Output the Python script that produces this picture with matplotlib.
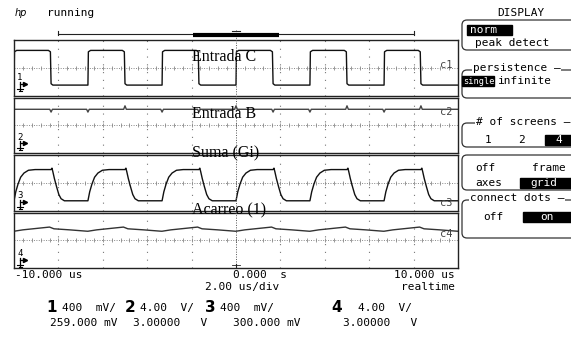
import numpy as np
import matplotlib.pyplot as plt
from matplotlib.patches import FancyBboxPatch, Rectangle

# edge times of the input clock (us)
t_rise = [-10.0, -6.67, -3.33, 0.0, 3.33, 6.67]
t_fall = [-8.33, -5.0, -1.67, 1.67, 5.0, 8.33]

# channel 1 (Entrada C) edge shapes: (dt, level)
ch1_rise = [(0.0, -2.5), (0.02, 2.3), (0.12, 2.5)]
ch1_fall = [(-0.12, 2.5), (-0.03, 2.3), (0.0, -2.3), (0.08, -2.5)]

# channel 2 (Entrada B): flat line with small glitches at every edge
ch2_level = 2.3
ch2_glitch = [0.0, -0.4, -0.4, 0.5, -0.4, -0.4, 0.5, -0.4, -0.4, 0.5, -0.4, 0.5]

# channel 3 (Suma (Gi)) edge shapes
ch3_rise = [(0.0, -2.6), (0.08, -1.3), (0.18, -0.2), (0.3, 0.8), (0.45, 1.4),
            (0.65, 1.8), (0.95, 1.9)]
ch3_fall = [(0.0, 1.9), (0.04, 2.1), (0.08, 1.6), (0.15, 0.6), (0.25, -0.6),
            (0.35, -1.7), (0.45, -2.3), (0.6, -2.6)]

# channel 4 (Acarreo (1)) ripple over one clock period, from each rise
ch4_period = [(0.0, 1.3), (0.4, 1.5), (1.0, 1.7), (1.6, 1.9), (1.8, 1.65),
              (2.5, 1.5), (3.3, 1.3)]

labels = ['Entrada C', 'Entrada B', 'Suma (Gi)', 'Acarreo (1)']
scales = ['400  mV/', '4.00  V/', '400  mV/', '4.00  V/']
offsets = ['259.000 mV', '3.00000   V', '300.000 mV', '3.00000   V']


def build(events, start_level, end_level):
    t, v = [-10.0], [start_level]
    for t0, tpl in sorted(events, key=lambda e: e[0]):
        for dt, lv in tpl:
            t.append(t0 + dt)
            v.append(lv)
    t.append(10.0)
    v.append(end_level)
    t = np.clip(t, -10, 10)
    return t, np.array(v)


edges = sorted([(a, 'r') for a in t_rise] + [(a, 'f') for a in t_fall])

w1 = build([(a, ch1_rise if k == 'r' else ch1_fall) for a, k in edges], -2.5, -2.5)
w2 = build([(a, [(-0.06, ch2_level), (0.0, ch2_level + g), (0.06, ch2_level)])
            for (a, k), g in zip(edges, ch2_glitch)], ch2_level, ch2_level)
w3 = build([(a, ch3_rise if k == 'r' else ch3_fall) for a, k in edges], -2.6, -2.6)
w4 = build([(a, ch4_period) for a in t_rise], 1.3, 1.3)
waves = [w1, w2, w3, w4]
colors = ['#111111', '#444444', '#111111', '#333333']

W, H = 571, 349
fig = plt.figure(figsize=(W / 100, H / 100), dpi=100)
plt.rcParams['font.family'] = 'DejaVu Sans Mono'

x0, x1 = 14, 458
top, bot = 40, 268
ph = 55.5
for i in range(4):
    ytop = top + i * 57.5
    ax = fig.add_axes([x0 / W, 1 - (ytop + ph) / H, (x1 - x0) / W, ph / H])
    ax.set_xlim(-10, 10)
    ax.set_ylim(-4, 4)
    ax.set_xticks([])
    ax.set_yticks([])
    for s in ax.spines.values():
        s.set_linewidth(1.0)
        s.set_color('#222222')
    for xv in [-8, -6, -4, -2, 2, 4, 6, 8]:
        ax.axvline(xv, color='#777777', lw=0.8, ls=(0, (1, 6)))
    ax.axhline(0, color='#888888', lw=0.7, ls=(0, (1, 1.5)))
    ax.plot(np.arange(-9.6, 10, 0.4), np.zeros(49), ls='none', marker='|',
            ms=2.5, mew=0.6, color='#888888')
    t, v = waves[i]
    ax.plot(t, v, color=colors[i], lw=1.0)

ov = fig.add_axes([0, 0, 1, 1], zorder=10)
ov.set_xlim(0, W)
ov.set_ylim(H, 0)
ov.axis('off')
ov.patch.set_alpha(0)

# center trigger line and top bar
ov.plot([236, 236], [30, bot], color='#555555', lw=0.7, ls=(0, (1, 1.5)))
ov.plot([58, 414], [34, 34], color='#222222', lw=0.8)
ov.plot([193, 279], [34.5, 34.5], color='black', lw=3, solid_capstyle='butt')
for xe in (58, 414):
    ov.plot([xe, xe], [31, 35], color='#222222', lw=0.8)
ov.plot([232, 240], [30.5, 30.5], color='#222222', lw=0.8)
ov.plot([236, 236], [264, 268], color='#222222', lw=0.8)
ov.plot([232, 240], [264.5, 264.5], color='#222222', lw=0.6)

ov.text(15, 13, 'hp', fontsize=7, style='italic', family='DejaVu Sans', va='center')
ov.text(47, 13, 'running', fontsize=8, va='center')

# waveform titles
ly = [57, 114, 153, 210]
for lab, y in zip(labels, ly):
    ov.text(192, y, lab, fontsize=11.5, family='Liberation Serif', va='center')

for k, y in enumerate([65, 112, 203, 234]):
    ov.text(440, y, 'c%d' % (k + 1), fontsize=7.5, color='#444444', va='center')

# ground markers
for k, ya in enumerate([84, 143, 202, 260]):
    ov.text(17, ya - 6, str(k + 1), fontsize=6.5, va='center')
    ov.plot([20, 20], [ya - 2, ya + 6], color='black', lw=0.9)
    ov.plot([20, 24], [ya, ya], color='black', lw=0.9)
    ov.plot([25], [ya], marker='>', ms=3, color='black')
    ov.plot([17, 23], [ya + 5, ya + 5], color='black', lw=0.8)
    ov.plot([18.5, 21.5], [ya + 7, ya + 7], color='black', lw=0.8)

# bottom readouts
ov.text(15, 275, '-10.000 us', fontsize=8, va='center')
ov.text(233, 275, '0.000  s', fontsize=8, va='center')
ov.text(455, 275, '10.000 us', fontsize=8, va='center', ha='right')
ov.text(205, 287, '2.00 us/div', fontsize=8, va='center')
ov.text(455, 287, 'realtime', fontsize=8, va='center', ha='right')

num_x = [46, 125, 205, 331]
sc_x = [62, 140, 220, 358]
off_x = [50, 133, 233, 343]
for k in range(4):
    ov.text(num_x[k], 307, str(k + 1), fontsize=11, fontweight='bold',
            family='DejaVu Sans', va='center')
    ov.text(sc_x[k], 308, scales[k], fontsize=8, va='center')
    ov.text(off_x[k], 323, offsets[k], fontsize=8, va='center')

# right-hand DISPLAY menu
ov.text(521, 13, 'DISPLAY', fontsize=8, va='center', ha='center')


def menu_box(y0, y1):
    ov.add_patch(FancyBboxPatch((462, y0), 130, y1 - y0,
                                boxstyle='round,pad=0,rounding_size=5',
                                fc='none', ec='#333333', lw=0.9))


def hi(xa, xb, y, txt, tx, fs=8):
    ov.add_patch(Rectangle((xa, y - 5), xb - xa, 10, color='black'))
    ov.text(tx, y, txt, fontsize=fs, color='white', va='center')


def head(x, y, txt):
    ov.text(x, y, txt, fontsize=8, va='center',
            bbox=dict(fc='white', ec='none', pad=0.5))


menu_box(20, 50)
hi(467, 512, 30, 'norm', 470)
ov.text(475, 43, 'peak detect', fontsize=8, va='center')

menu_box(70, 98)
head(473, 68, 'persistence —')
hi(462, 494, 81, 'single', 463, fs=6.2)
ov.text(498, 81, 'infinite', fontsize=8, va='center')

menu_box(123, 147)
head(476, 122, '# of screens —')
ov.text(485, 140, '1', fontsize=8, va='center')
ov.text(518, 140, '2', fontsize=8, va='center')
hi(545, 571, 140, '4', 555)

menu_box(155, 190)
ov.text(475, 168, 'off', fontsize=8, va='center')
ov.text(532, 168, 'frame', fontsize=8, va='center')
ov.text(475, 183, 'axes', fontsize=8, va='center')
hi(520, 571, 183, 'grid', 530)

menu_box(200, 238)
head(470, 198, 'connect dots —')
ov.text(483, 217, 'off', fontsize=8, va='center')
hi(523, 571, 217, 'on', 540)

fig.savefig('out.png', dpi=100)
